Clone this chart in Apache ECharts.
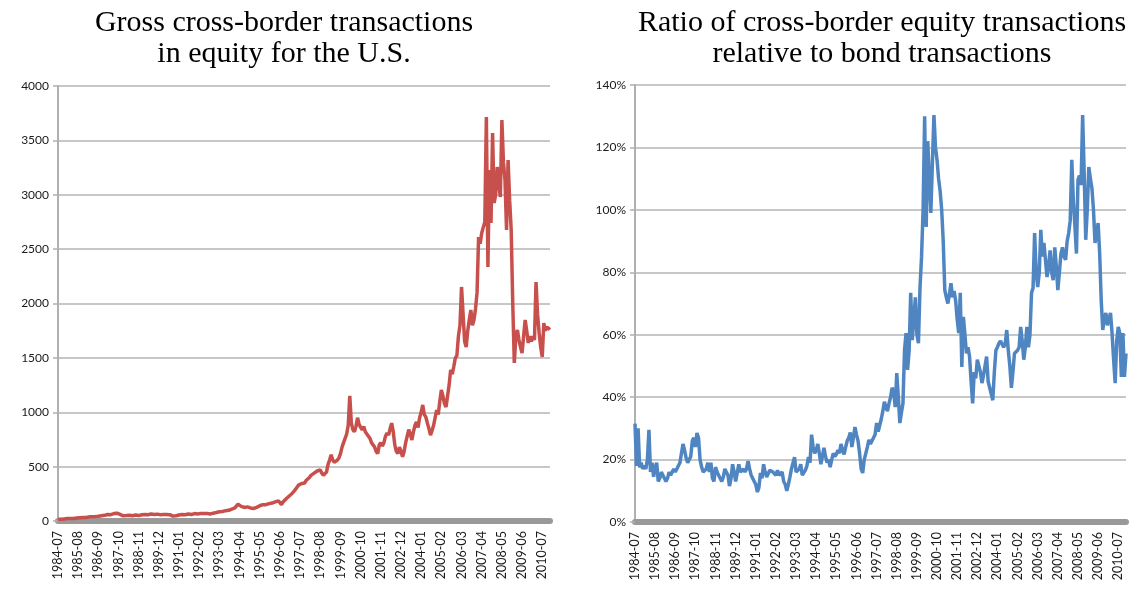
<!DOCTYPE html>
<html><head><meta charset="utf-8">
<script src="https://cdn.jsdelivr.net/npm/echarts@6/dist/echarts.min.js"></script>
<style>html,body{margin:0;padding:0;background:#fff}#c{width:1146px;height:591px}</style>
</head><body><div id="c"></div>
<script>
// Monthly categories 1984-07 .. 2010-12
const startYear = 1984, startMonth = 7, nMonths = 318;
const months = [];
for (let k = 0; k < nMonths; k++) {
  const m = startMonth - 1 + k;
  const y = startYear + Math.floor(m / 12);
  const mm = (m % 12) + 1;
  months.push(y + '-' + (mm < 10 ? '0' + mm : mm));
}

const equityTitle = ['Gross cross-border transactions', 'in equity for the U.S.'];
const ratioTitle = ['Ratio of cross-border equity transactions', 'relative to bond transactions'];

// Gross cross-border equity transactions (left panel), by year
const equity1984 = [15, 18, 16, 20, 19, 22];
const equity1985 = [22, 20, 24, 25, 23, 26, 28, 27, 30, 29, 32, 34];
const equity1986 = [33, 36, 38, 35, 40, 42, 41, 44, 43, 46, 48, 50];
const equity1987 = [52, 55, 60, 62, 58, 65, 68, 66, 72, 90, 60, 50];
const equity1988 = [48, 52, 50, 55, 53, 50, 48, 52, 55, 53, 50, 55];
const equity1989 = [58, 55, 60, 62, 58, 60, 65, 62, 60, 58, 63, 60];
const equity1990 = [58, 62, 60, 55, 60, 62, 58, 50, 45, 52, 48, 50];
const equity1991 = [55, 58, 60, 62, 58, 60, 65, 62, 60, 65, 68, 62];
const equity1992 = [65, 68, 70, 65, 68, 72, 70, 68, 65, 70, 72, 75];
const equity1993 = [78, 80, 85, 90, 88, 92, 95, 100, 98, 105, 110, 115];
const equity1994 = [120, 135, 155, 145, 135, 128, 125, 128, 130, 125, 120, 118];
const equity1995 = [115, 120, 125, 135, 140, 145, 150, 155, 150, 155, 160, 165];
const equity1996 = [165, 170, 175, 180, 185, 190, 150, 175, 190, 205, 220, 230];
const equity1997 = [240, 255, 270, 290, 310, 330, 320, 345, 360, 350, 375, 390];
const equity1998 = [400, 420, 410, 440, 450, 460, 455, 470, 440, 420, 405, 450];
const equity1999 = [520, 560, 610, 560, 540, 530, 560, 580, 620, 680, 720, 760];
const equity2000 = [800, 880, 1150, 900, 840, 820, 870, 950, 890, 860, 840, 870];
const equity2001 = [820, 800, 780, 760, 720, 700, 680, 640, 620, 700, 720, 690];
const equity2002 = [720, 780, 810, 790, 850, 900, 820, 700, 640, 620, 680, 640];
const equity2003 = [590, 640, 720, 780, 840, 800, 745, 820, 880, 910, 860, 950];
const equity2004 = [1000, 1067, 980, 956, 900, 850, 790, 830, 880, 950, 1020, 980];
const equity2005 = [1100, 1205, 1150, 1080, 1048, 1150, 1250, 1389, 1350, 1420, 1499, 1520];
const equity2006 = [1700, 1800, 2152, 1900, 1650, 1600, 1750, 1850, 1940, 1800, 1848, 1950];
const equity2007 = [2100, 2611, 2550, 2648, 2700, 2750, 3715, 2336, 3227, 2740, 3568, 2924];
const equity2008 = [3000, 3255, 3100, 2979, 3687, 3300, 3136, 2676, 3319, 2950, 2676, 2000];
const equity2009 = [1453, 1700, 1756, 1664, 1600, 1545, 1700, 1848, 1750, 1637, 1700, 1650];
const equity2010 = [1700, 1664, 2198, 1900, 1729, 1600, 1508, 1820, 1750, 1784, 1800, 1760];

// Ratio of equity to bond transactions, percent (right panel), by year
const ratio1984 = [31.5, 18, 30, 17.5, 19, 17];
const ratio1985 = [18, 17, 20, 29.5, 16, 19, 14.5, 17.5, 19, 13, 14, 16];
const ratio1986 = [15, 14, 13, 14, 16, 15, 16, 17, 16, 17, 18, 19];
const ratio1987 = [22, 25, 23, 20.5, 19, 18.5, 21, 26, 27, 24, 28.5, 27];
const ratio1988 = [20, 17.6, 16, 15.7, 17, 19, 16, 19, 14, 13, 17.6, 16];
const ratio1989 = [15, 14.4, 13, 14.4, 17, 16.6, 15, 11.5, 14, 18.5, 16, 13];
const ratio1990 = [13, 18.5, 16, 15.7, 17, 16, 17, 19.5, 17, 15, 14.4, 13];
const ratio1991 = [12, 9.6, 11, 15.7, 14, 18.5, 16, 14.4, 15, 16.6, 17, 16];
const ratio1992 = [16, 15, 16.6, 15, 14.4, 16, 13, 12, 10, 12, 14.4, 17];
const ratio1993 = [17, 20.8, 16, 15.7, 17, 18.5, 15, 15, 16.6, 18, 20.8, 19];
const ratio1994 = [28, 24, 22, 23, 25, 22, 18.5, 21, 23.8, 21, 19, 20];
const ratio1995 = [17.6, 20, 22, 21, 21.7, 23, 22, 25, 23, 21.7, 24, 26];
const ratio1996 = [27, 28.7, 24, 27, 30.4, 28, 26, 22, 17, 15.7, 20, 22];
const ratio1997 = [24, 26.3, 25, 24.8, 27, 28, 31.7, 29, 31, 33, 35.5, 38.5];
const ratio1998 = [38, 35.5, 38, 40, 43, 41.8, 36.8, 47.7, 40, 31.7, 35, 38];
const ratio1999 = [55, 60.5, 48.7, 55, 73.4, 58.3, 65, 72, 60, 57.3, 75, 85];
const ratio2000 = [100, 130, 94.5, 122, 110, 99, 115, 130.4, 120, 116, 110, 106];
const ratio2001 = [100, 90, 74.3, 72, 70, 73, 76.5, 72, 74, 71, 65, 60.5];
const ratio2002 = [73.4, 49.7, 65.7, 60, 54, 56, 53, 45, 38, 48, 46, 52];
const ratio2003 = [50, 48, 44.5, 47, 50, 53, 45, 43, 41, 39, 48, 55];
const ratio2004 = [56, 57.3, 58, 57, 56, 57, 61.5, 55, 50, 43, 48, 54];
const ratio2005 = [54, 55, 56, 62.5, 58, 52, 56, 62.5, 56, 60, 73.4, 75];
const ratio2006 = [92.6, 80, 75.3, 79.8, 93.6, 85, 89.4, 84, 78.5, 82, 87, 80];
const ratio2007 = [77.5, 88, 82, 74.3, 80, 86, 88, 85, 84, 90, 92.6, 96.7];
const ratio2008 = [116, 103, 95, 86, 109.6, 111, 108, 130.4, 111.8, 90.4, 100, 113.7];
const ratio2009 = [110, 107, 100, 89.4, 92, 95.8, 86, 71, 61.5, 65, 67, 63];
const ratio2010 = [62.5, 67, 60.5, 52, 44.5, 58, 62.5, 60.5, 46.5, 60.5, 46.5, 54];

const equityValues = [].concat(equity1984, equity1985, equity1986, equity1987, equity1988, equity1989,
  equity1990, equity1991, equity1992, equity1993, equity1994, equity1995, equity1996, equity1997,
  equity1998, equity1999, equity2000, equity2001, equity2002, equity2003, equity2004, equity2005,
  equity2006, equity2007, equity2008, equity2009, equity2010);
const ratioValues = [].concat(ratio1984, ratio1985, ratio1986, ratio1987, ratio1988, ratio1989,
  ratio1990, ratio1991, ratio1992, ratio1993, ratio1994, ratio1995, ratio1996, ratio1997,
  ratio1998, ratio1999, ratio2000, ratio2001, ratio2002, ratio2003, ratio2004, ratio2005,
  ratio2006, ratio2007, ratio2008, ratio2009, ratio2010);

const sansFont = 'Lato, "Open Sans", sans-serif';
const serifFont = '"Liberation Serif", "DejaVu Serif", serif';

function xAxisFor(gi) {
  return {
    type: 'category', gridIndex: gi, data: months, boundaryGap: false,
    axisLine: { show: true, lineStyle: { color: '#999999', width: 6 } },
    axisTick: { show: false },
    axisLabel: { interval: 12, rotate: 90, fontFamily: sansFont, fontSize: 12.5, color: '#1a1a1a', margin: 10 },
    splitLine: { show: false }
  };
}
function yAxisFor(gi, max, interval, suffix) {
  return {
    type: 'value', gridIndex: gi, min: 0, max: max, interval: interval,
    axisLine: { show: true, lineStyle: { color: '#b0b0b0', width: 2 } },
    axisTick: { show: true, length: 5, lineStyle: { color: '#b0b0b0', width: 1.5 } },
    axisLabel: { formatter: function (v) { return String(v) + suffix; }, fontFamily: sansFont, fontSize: 12, color: '#1a1a1a', margin: 9 },
    splitLine: { show: true, lineStyle: { color: '#b4b4b4', width: 1.5 } }
  };
}

const chart = echarts.init(document.getElementById('c'), null, { renderer: 'canvas' });
chart.setOption({
  animation: false,
  backgroundColor: '#fff',
  graphic: [
    { type: 'text', x: 284, y: 8, style: { text: equityTitle.join('\n'), textAlign: 'center', font: '30px ' + serifFont, lineHeight: 31, fill: '#000' } },
    { type: 'text', x: 882, y: 8, style: { text: ratioTitle.join('\n'), textAlign: 'center', font: '30px ' + serifFont, lineHeight: 31, fill: '#000' } }
  ],
  grid: [
    { left: 58, top: 86, width: 492, height: 435 },
    { left: 635, top: 85, width: 491, height: 437 }
  ],
  xAxis: [xAxisFor(0), xAxisFor(1)],
  yAxis: [yAxisFor(0, 4000, 500, ''), yAxisFor(1, 140, 20, '%')],
  series: [
    { type: 'line', xAxisIndex: 0, yAxisIndex: 0, data: equityValues, showSymbol: false,
      lineStyle: { color: '#c8504c', width: 3.5 }, itemStyle: { color: '#c8504c' } },
    { type: 'line', xAxisIndex: 1, yAxisIndex: 1, data: ratioValues, showSymbol: false,
      lineStyle: { color: '#4f86c2', width: 3.5 }, itemStyle: { color: '#4f86c2' } }
  ]
});
</script></body></html>
